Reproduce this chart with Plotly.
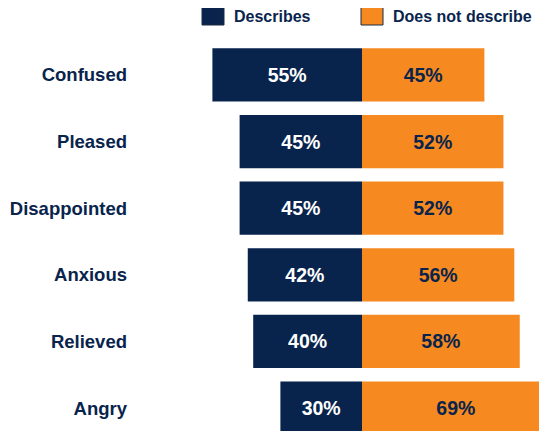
import plotly.graph_objects as go

# emotions, top to bottom
emotions = ["Confused", "Pleased", "Disappointed", "Anxious", "Relieved", "Angry"]
describes = [55, 45, 45, 42, 40, 30]
not_describe = [45, 52, 52, 56, 58, 69]

NAVY = "#08244c"
ORANGE = "#f6891f"
FONT = "Liberation Sans"

# page has an 8px body margin, so the figure is shifted by 8px
OFF = 8
W, H = 547, 431 - OFF
ML, MR, MT, MB = 135 - OFF, 0, 42 - OFF, 0
CENTER = 362 - OFF
PX_PER_PCT = 2.72


def px_x(px):
    return (px - OFF - ML) / (W - ML - MR)


def px_y(py):
    return (H - MB - (py - OFF)) / (H - MT - MB)


fig = go.Figure()
fig.add_trace(go.Bar(
    y=emotions, x=[-v for v in describes], orientation="h",
    marker=dict(color=NAVY, line=dict(width=0)),
    text=[f"{v}%" for v in describes], textposition="inside",
    insidetextanchor="middle",
    textfont=dict(family=FONT, size=19.5, color="white", weight="bold"),
    name="Describes", showlegend=False,
))
fig.add_trace(go.Bar(
    y=emotions, x=not_describe, orientation="h",
    marker=dict(color=ORANGE, line=dict(width=0)),
    text=[f"{v}%" for v in not_describe], textposition="inside",
    insidetextanchor="middle",
    textfont=dict(family=FONT, size=19.5, color=NAVY, weight="bold"),
    name="Does not describe", showlegend=False,
))

# hand-made legend with big swatches
legend = [("Describes", NAVY, 202), ("Does not describe", ORANGE, 361)]
for label, col, x0 in legend:
    fig.add_shape(type="rect", xref="paper", yref="paper",
                  x0=px_x(x0), x1=px_x(x0 + 22), y0=px_y(25), y1=px_y(5),
                  fillcolor=col, line=dict(color="#1a2a40", width=1))
    fig.add_annotation(xref="paper", yref="paper", x=px_x(x0 + 30), y=px_y(16),
                       text=label, showarrow=False, xanchor="left", yanchor="middle",
                       font=dict(family=FONT, size=16, color=NAVY, weight="bold"))

fig.update_layout(
    width=W, height=H,
    margin=dict(l=ML, r=MR, t=MT, b=MB),
    barmode="relative", bargap=0.2,
    plot_bgcolor="white", paper_bgcolor="white",
    xaxis=dict(range=[-(CENTER - ML) / PX_PER_PCT, (W - CENTER) / PX_PER_PCT],
               visible=False, fixedrange=True),
    yaxis=dict(
        categoryorder="array", categoryarray=emotions[::-1],
        range=[-0.345, 5.495],
        showgrid=False, zeroline=False, showline=False,
        ticks="", ticklabelstandoff=7,
        tickfont=dict(family=FONT, size=18.5, color=NAVY, weight="bold"),
    ),
)

fig.write_html("out.html")
